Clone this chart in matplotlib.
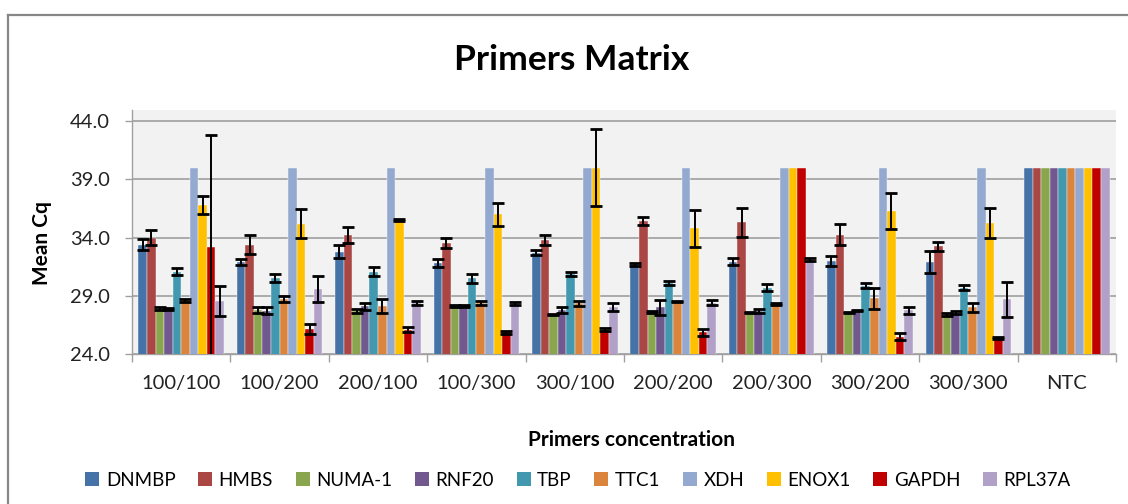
import numpy as np
import matplotlib
matplotlib.use("Agg")
import matplotlib.pyplot as plt
from matplotlib.lines import Line2D
from matplotlib.patches import Patch

plt.rcParams['font.family'] = ['Lato', 'DejaVu Sans']

groups = ["100/100", "100/200", "200/100", "100/300", "300/100",
          "200/200", "200/300", "300/200", "300/300", "NTC"]
genes = ["DNMBP", "HMBS", "NUMA-1", "RNF20", "TBP",
         "TTC1", "XDH", "ENOX1", "GAPDH", "RPL37A"]

dnmbp = [33.4, 31.9, 32.8, 31.8, 32.7, 31.7, 31.9, 32.0, 31.9, 40.0]
hmbs = [34.0, 33.4, 34.2, 33.5, 33.8, 35.4, 35.3, 34.25, 33.25, 40.0]
numa1 = [27.9, 27.8, 27.7, 28.1, 27.4, 27.6, 27.55, 27.55, 27.4, 40.0]
rnf20 = [27.85, 27.7, 28.1, 28.1, 27.8, 28.0, 27.7, 27.75, 27.55, 40.0]
tbp = [31.07, 30.5, 31.07, 30.5, 30.85, 30.1, 29.7, 29.85, 29.7, 40.0]
ttc1 = [28.6, 28.7, 28.1, 28.35, 28.35, 28.5, 28.3, 28.8, 28.0, 40.0]
xdh = [40.0, 40.0, 40.0, 40.0, 40.0, 40.0, 40.0, 40.0, 40.0, 40.0]
enox1 = [36.8, 35.2, 35.5, 36.0, 40.0, 34.8, 40.0, 36.3, 35.25, 40.0]
gapdh = [33.2, 26.14, 26.1, 25.85, 26.1, 25.85, 40.0, 25.5, 25.35, 40.0]
rpl37a = [28.55, 29.6, 28.4, 28.35, 28.05, 28.4, 32.1, 27.75, 28.7, 40.0]

dnmbp_err = [0.5, 0.25, 0.57, 0.33, 0.2, 0.12, 0.3, 0.45, 0.95, 0]
hmbs_err = [0.65, 0.8, 0.7, 0.43, 0.45, 0.35, 1.25, 0.88, 0.4, 0]
numa1_err = [0.1, 0.25, 0.17, 0.1, 0.05, 0.05, 0.05, 0.05, 0.1, 0]
rnf20_err = [0.1, 0.3, 0.3, 0.1, 0.27, 0.65, 0.2, 0.05, 0.1, 0]
tbp_err = [0.3, 0.35, 0.4, 0.38, 0.17, 0.2, 0.27, 0.22, 0.22, 0]
ttc1_err = [0.1, 0.25, 0.6, 0.17, 0.2, 0.05, 0.05, 0.9, 0.4, 0]
xdh_err = [0, 0, 0, 0, 0, 0, 0, 0, 0, 0]
enox1_err = [0.75, 1.25, 0.1, 0.97, 3.3, 1.6, 0, 1.55, 1.27, 0]
gapdh_err = [9.6, 0.45, 0.18, 0.1, 0.15, 0.3, 0, 0.28, 0.1, 0]
rpl37a_err = [1.27, 1.1, 0.15, 0.1, 0.35, 0.2, 0.15, 0.28, 1.5, 0]

colors = ["#4572A7", "#AA4643", "#89A54E", "#71588F", "#4198AF",
          "#DB843D", "#93A9CF", "#FFC000", "#C00000", "#B1A0C7"]

series = [dnmbp, hmbs, numa1, rnf20, tbp, ttc1, xdh, enox1, gapdh, rpl37a]
errors = [dnmbp_err, hmbs_err, numa1_err, rnf20_err, tbp_err,
          ttc1_err, xdh_err, enox1_err, gapdh_err, rpl37a_err]

W, H = 1128, 504
fig = plt.figure(figsize=(W / 100, H / 100), dpi=100)

# outer chart frame
frame_kw = dict(color="#878787", lw=1.6, transform=fig.transFigure)
fig.add_artist(Line2D([8 / W, 8 / W], [0, 1 - 14.5 / H], **frame_kw))
fig.add_artist(Line2D([8 / W, 1], [1 - 14.5 / H, 1 - 14.5 / H], **frame_kw))

left, right, top, bottom = 132, 1116, 110, 354
ax = fig.add_axes([left / W, 1 - bottom / H, (right - left) / W, (bottom - top) / H])
ax.set_facecolor("#F2F2F2")

x = np.arange(len(groups))
bw = 0.087
for j, (vals, errs, c) in enumerate(zip(series, errors, colors)):
    pos = x + (j - 4.5) * bw
    ax.bar(pos, vals, width=bw, color=c, edgecolor="#FAFAFA", linewidth=0.3, zorder=3)
    errs = np.asarray(errs, float)
    m = errs > 0
    ax.errorbar(pos[m], np.asarray(vals)[m], yerr=errs[m], fmt="none",
                ecolor="black", elinewidth=1.4, capsize=4.3, capthick=2.0, zorder=4)

ax.set_xlim(-0.5, len(groups) - 0.5)
ax.set_ylim(24, 44.95)
ax.set_yticks([24, 29, 34, 39, 44])
ax.set_yticklabels([f"{v:.1f}" for v in [24, 29, 34, 39, 44]])
ax.yaxis.grid(True, color="#A5A5A5", lw=1.3, zorder=0)
ax.set_axisbelow(True)

ax.set_xticks(x)
ax.set_xticklabels(groups)
ax.set_xticks(np.arange(len(groups) + 1) - 0.5, minor=True)
ax.tick_params(axis="x", which="major", length=0, pad=15, labelsize=14.5, colors="#222222")
ax.tick_params(axis="x", which="minor", length=6, width=1.0, color="#A0A0A0")
ax.tick_params(axis="y", length=5, width=1.0, color="#A0A0A0", pad=11,
               labelsize=14.5, labelcolor="#222222")

for s in ["top", "right"]:
    ax.spines[s].set_visible(False)
for s in ["left", "bottom"]:
    ax.spines[s].set_color("#A0A0A0")
    ax.spines[s].set_linewidth(1.0)

fig.text(572 / W, 1 - 60 / H, "Primers Matrix", ha="center", va="center",
         fontsize=25.5, fontweight="bold")
fig.text(42 / W, 1 - 243 / H, "Mean Cq", ha="center", va="center",
         rotation=90, fontsize=15, fontweight="bold")
fig.text(632 / W, 1 - 440 / H, "Primers concentration", ha="center", va="center",
         fontsize=15, fontweight="bold")

handles = [Patch(facecolor=c, edgecolor="none") for c in colors]
fig.legend(handles, genes, loc="center", bbox_to_anchor=(578 / W, 1 - 480 / H),
           ncol=len(genes), frameon=False, fontsize=13.5, handlelength=0.75,
           handleheight=0.75, handletextpad=0.35, columnspacing=1.2,
           borderaxespad=0)

fig.savefig("out.png", dpi=100)
